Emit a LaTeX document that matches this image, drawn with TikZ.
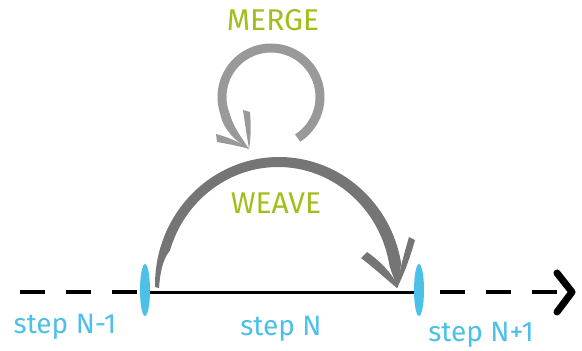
\documentclass[tikz,border=0pt]{standalone}
\usepackage{fontspec}
\setmainfont{Fira Sans}
\usetikzlibrary{shapes.geometric,calc}
\definecolor{lblgreen}{HTML}{A2BE1C}
\definecolor{stepblue}{HTML}{4CC0E6}
\definecolor{mergegray}{HTML}{999999}
\definecolor{weavegray}{HTML}{757575}
\begin{document}
\begin{tikzpicture}[x=1pt,y=-1pt,
  lbl/.style={text=lblgreen,font=\fontsize{30}{30}\selectfont,inner sep=0pt},
  steplbl/.style={text=stepblue,font=\fontsize{28}{28}\selectfont,inner sep=0pt},
  marker/.style={fill=stepblue,draw=none,ellipse,minimum width=10pt,minimum height=52pt,inner sep=0pt},
  dashline/.style={line width=3.2pt,dash pattern=on 25pt off 21pt},
  solidline/.style={line width=3pt}]
\useasboundingbox (0,0) rectangle (582,351);
% baseline coordinates
\coordinate (L0) at (20,292);
\coordinate (p1) at (145,292);
\coordinate (p2) at (419,292);
\coordinate (R0) at (440,292);
\coordinate (R1) at (572,292);
% dashed and solid parts
\draw[dashline] (L0) -- (p1);
\draw[solidline] (p1) -- (p2);
\draw[dashline] (R0) -- (R1);
% big arrowhead (chevron)
\draw[line width=7pt,line cap=round,line join=round] (557,273) -- (R1) -- (557,312);
\node[marker] (m1) at (145,290) {};
\node[marker] (m2) at (419,290) {};
% weave arc (tapered at both ends)
\coordinate (wtip) at (397,288);
\fill[weavegray] (155,287) -- ($(279,285)+(181:124 and 128)$) arc (181:350:124 and 128)
   .. controls (400,272) and (399,281) .. (wtip)
   .. controls (395,280) and (391,272) .. ($(278,285)+(350:113 and 118)$)
   arc (350:197:113 and 118) .. controls (162,260) and (160,275) .. (159,288) -- cycle;
% weave arrow barbs
\fill[weavegray] (361,258) -- (367,252) .. controls (380,261) and (391,272) .. (398,286)
   -- (wtip) .. controls (386,279) and (374,268) .. (361,258) -- cycle;
\fill[weavegray] (409,237) -- (415,240) .. controls (410,258) and (404,274) .. (wtip)
   .. controls (399,272) and (404,254) .. (409,237) -- cycle;
% merge loop
\coordinate (mtip) at (249,149);
\draw[mergegray,line width=9pt] (271,97) ++(57:49) arc (57:-200:49);
\fill[mergegray] (220.5,115.3) .. controls (224,130) and (236,142) .. (mtip)
   .. controls (242,138) and (233,127) .. (229.2,112.2) -- cycle;
\fill[mergegray] (243,110) -- (250,112) .. controls (251,125) and (251,138) .. (mtip)
   .. controls (247,137) and (245,124) .. (243,110) -- cycle;
\fill[mergegray] (216,134) -- (217,142) .. controls (228,144) and (239,146) .. (mtip)
   .. controls (238,141) and (227,137) .. (216,134) -- cycle;
% labels
\node[lbl] (merge) at (273,20) {MERGE};
\node[lbl] (weave) at (276,203) {WEAVE};
\node[steplbl] (s1) at (65,327) {step N-1};
\node[steplbl] (s2) at (281,329) {step N};
\node[steplbl] (s3) at (481,335) {step N+1};
\end{tikzpicture}
\end{document}
